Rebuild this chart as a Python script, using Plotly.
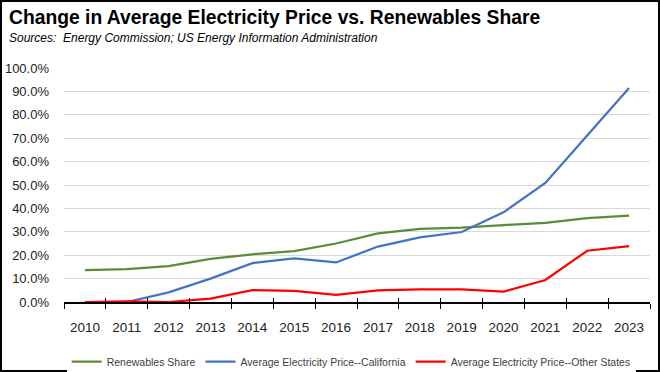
import plotly.graph_objects as go

years = [2010, 2011, 2012, 2013, 2014, 2015, 2016, 2017, 2018, 2019, 2020, 2021, 2022, 2023]
renewables_share = [0.136, 0.140, 0.153, 0.184, 0.204, 0.217, 0.250, 0.293, 0.312, 0.318, 0.329, 0.338, 0.358, 0.369]
price_california = [0.0, 0.0, 0.041, 0.100, 0.166, 0.186, 0.169, 0.237, 0.276, 0.299, 0.383, 0.509, 0.712, 0.914]
price_other_states = [0.0, 0.003, 0.0, 0.014, 0.051, 0.048, 0.031, 0.050, 0.054, 0.054, 0.044, 0.094, 0.219, 0.239]
series_names = ["Renewables Share", "Average Electricity Price--California", "Average Electricity Price--Other States"]
series_colors = ["#5B8C3A", "#4472C4", "#FF0000"]

FONT = "Liberation Sans"
W, H = 660, 372
ML, MR, MT, MB = 64, 10, 68, 70

fig = go.Figure()
for name, vals, col, xa in zip(series_names,
                               [renewables_share, price_california, price_other_states],
                               series_colors, ["x", "x2", "x2"]):
    fig.add_trace(go.Scatter(x=years, y=vals, mode="lines", name=name, xaxis=xa, yaxis="y",
                             line=dict(color=col, width=2.25)))

pw = W - ML - MR
ph = H - MT - MB
xr = [years[0] - 0.5, years[-1] + 0.5]
boundaries = [y - 0.5 for y in years] + [years[-1] + 0.5]

fig.update_layout(
    width=W, height=H,
    margin=dict(l=ML, r=MR, t=MT, b=MB, pad=0, autoexpand=False),
    paper_bgcolor="white", plot_bgcolor="white",
    font=dict(family=FONT, color="#333333"),
    showlegend=True,
    legend=dict(orientation="h", x=0.49, xanchor="center", y=-0.255, yanchor="middle",
                font=dict(size=10.5, color="#404040"), itemwidth=30, tracegroupgap=0),
    # main axis: line, year labels, outside tick marks (minor) at category boundaries
    xaxis=dict(range=xr, tickmode="array", tickvals=years, ticktext=[str(y) for y in years],
               showgrid=False, zeroline=False, showline=True, linecolor="black", linewidth=1.5,
               ticks="outside", ticklen=5, tickcolor="rgba(0,0,0,0)", tickwidth=1,
               ticklabelstandoff=7, tickfont=dict(size=13.5, color="#222222"),
               minor=dict(tickmode="array", tickvals=boundaries, ticks="outside", ticklen=5,
                          tickcolor="black", tickwidth=1.3, showgrid=False),
               automargin=False),
    # overlay axis: inside tick marks at the category boundaries
    xaxis2=dict(overlaying="x", anchor="y", side="bottom", range=xr, tickmode="array",
                tickvals=boundaries, ticks="inside", ticklen=4, tickcolor="black", tickwidth=1.3,
                showticklabels=False, showgrid=False, zeroline=False, showline=False,
                automargin=False),
    yaxis=dict(range=[0, 1], dtick=0.1, tick0=0, tickformat=".1%", showgrid=True,
               gridcolor="#D9D9D9", gridwidth=1.2, zeroline=False, showline=False, ticks="",
               ticklabelstandoff=14, tickfont=dict(size=13, color="#222222"),
               automargin=False),
    annotations=[
        dict(text="<b>Change in Average Electricity Price vs. Renewables Share</b>",
             xref="paper", yref="paper", x=-(ML - 7) / pw, y=1 + (MT - 5) / ph,
             xanchor="left", yanchor="top", showarrow=False,
             font=dict(family=FONT, size=19.3, color="black")),
        dict(text="<i>Sources:  Energy Commission; US Energy Information Administration</i>",
             xref="paper", yref="paper", x=-(ML - 7) / pw, y=1 + (MT - 29) / ph,
             xanchor="left", yanchor="top", showarrow=False,
             font=dict(family=FONT, size=12, color="black")),
    ],
    shapes=[dict(type="rect", xref="paper", yref="paper",
                 x0=-(ML - 1) / pw, x1=1 + (MR - 1) / pw,
                 y0=-(MB - 1) / ph, y1=1 + (MT - 1) / ph,
                 line=dict(color="black", width=2), layer="above")],
)

fig.write_html("out.html", config={"displayModeBar": False},
               post_script="document.body.style.margin='0';document.body.style.overflow='hidden';")
